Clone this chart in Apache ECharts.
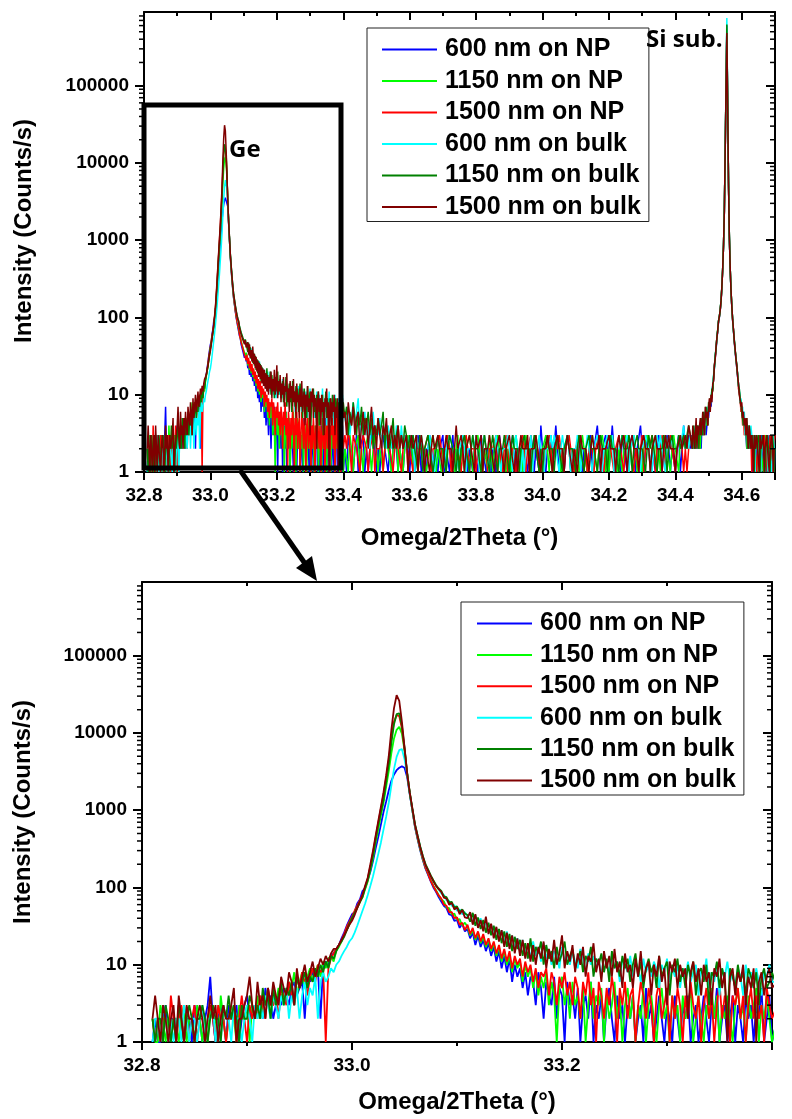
<!DOCTYPE html>
<html>
<head>
<meta charset="utf-8">
<script src="https://cdn.jsdelivr.net/npm/echarts@6/dist/echarts.min.js"></script>
<style>
  html, body { margin: 0; padding: 0; background: #fff; }
  #chart { width: 792px; height: 1119px; }
</style>
</head>
<body>
<div id="chart"></div>
<script>
// Omega/2Theta scans of Ge layers grown on nano-patterned (NP) and bulk Si.
// Each scan is stored in three segments: fine steps around the Ge peak,
// coarser steps in the flat background, fine steps around the Si substrate peak.
const segStartA = 32.81, segStepA = 0.0025;   // 237 points, to 33.400
const segStartB = 33.405, segStepB = 0.005;   // 209 points, to 34.445
const segStartC = 34.45, segStepC = 0.0025;   // 101 points, to 34.700

const seriesNames = ['600 nm on NP', '1150 nm on NP', '1500 nm on NP',
                     '600 nm on bulk', '1150 nm on bulk', '1500 nm on bulk'];

// ---- 600 nm on NP (counts/s) ----
const np600A = [
  1,2,1,1,2,3,1,2,2,1, 3,2,1,2,2,1,3,2,2,1, 2,3,7,2,1,2,3,2,1,3, 2,2,3,1,2,3,4,2,3,2,
  3,3,2,5,3,4,2,3,4,3, 5,4,3,5,6,4,5,6,2,7, 6,8,7,9,2,10,11,10,13,14, 16,18,22,26,32,38,45,48,62,70,
  90,98,125,160,220,320,450,650,950,1300, 1800,2400,2900,3300,3550,3700,3550,2700,1600,1000,
  600,420,300,225,175,145,120,100,88,75, 66,58,54,45,44,37,38,30,34,27,
  29,22,26,18,24,17,21,15,19,13, 17,11,15,9,13,8,12,6,10,7, 9,5,8,4,7,6,3,8,5,2,
  6,4,3,7,2,5,4,1,6,3, 4,2,5,1,3,4,2,6,1,3, 2,4,1,3,5,2,1,4,2,3, 1,3,2,4,1,2,3,1,5,2,
  3,1,2,4,2,1,3,2,1,4, 2,1,3,2,4,1,2,3,1,2, 4,2,1,3,2,5,1,2,3,1, 2,4,1,3,2,1,4,2,3,1,
  3,2,5,1,2,4,1
];
const np600B = [
  2,1,3,2,2,1,2,3,1,2, 2,3,1,2,1,2,2,4,2,1, 2,1,2,3,2,2,1,2,1,2, 3,2,1,2,2,1,2,3,2,1,
  2,2,1,2,3,2,1,2,2,1, 2,3,2,1,2,2,1,2,2,3, 1,2,2,1,2,3,1,2,2,1, 2,2,3,2,1,2,2,1,2,2,
  1,2,3,2,2,1,2,2,1,2, 2,1,2,3,2,2,1,2,2,1, 2,3,2,1,2,2,2,1,2,2, 1,2,3,2,1,2,2,1,4,2,
  2,1,2,2,3,1,2,4,2,1, 2,2,1,2,3,2,1,2,2,1, 2,3,2,1,2,2,1,2,3,1, 2,2,4,2,1,2,2,3,2,1,
  2,4,2,1,2,2,1,3,2,2, 1,2,2,3,2,1,2,2,4,2, 1,2,3,2,1,2,2,1,2,3, 2,1,2,2,3,2,1,2,2,1,
  2,3,1,2,4,2,2,3,2
];
const np600C = [
  3,2,2,3,2,3,2,2,3,2, 3,2,4,3,3,4,5,3,4,6, 5,7,8,7,10,12,16,22,30,38,
  52,66,88,100,122,160,240,420,850,2300, 13000,85000,600000,52000,5500,1100,430,220,135,90,
  66,48,36,28,22,17,14,11,9,7, 6,5,6,4,5,3,2,4,2,3, 2,3,2,1,2,2,3,2,1,2,
  2,1,2,2,3,2,1,2,2,2, 1,2,2,3,2,1,2,2,2,1, 2
];

// ---- 1150 nm on NP ----
const np1150A = [
  2,1,1,3,2,1,2,1,2,2, 1,2,3,1,2,2,1,3,2,1, 2,1,3,2,2,1,4,2,1,2, 3,2,1,3,2,2,3,1,3,2,
  4,2,3,3,5,2,4,3,5,4, 3,4,6,5,8,4,6,8,5,7, 9,6,8,10,7,11,9,12,13,11, 15,17,20,24,28,33,40,46,55,64,
  75,95,120,170,240,380,560,850,1250,2000, 3200,5500,8500,11000,12000,9800,6000,3000,1650,1000,
  620,430,310,230,180,150,125,105,92,80, 70,66,55,54,45,46,38,39,32,35,
  31,24,28,21,26,19,23,17,21,15, 19,13,17,11,15,10,13,8,12,9, 11,6,10,7,9,5,8,4,7,5,
  8,3,6,4,1,5,7,3,5,2, 6,3,4,2,5,1,3,6,2,4, 3,5,1,4,2,3,6,2,4,1, 3,5,2,4,1,3,2,5,1,3,
  4,2,1,3,5,2,3,1,4,2, 3,1,4,2,3,5,1,2,4,2, 1,3,2,5,2,4,1,3,2,4, 2,1,3,5,2,3,1,4,2,3,
  5,1,3,2,4,2,1
];
const np1150B = [
  2,2,1,3,2,1,2,2,3,1, 2,1,2,2,3,2,1,2,3,2, 1,2,2,1,2,3,2,2,1,2, 2,3,1,2,2,1,2,2,3,2,
  3,1,2,2,1,2,3,2,2,1, 1,2,2,3,2,1,2,2,1,2, 2,1,3,2,2,2,1,2,3,1, 2,2,1,2,2,3,2,1,2,2,
  3,2,2,1,2,2,1,3,2,1, 2,2,3,2,1,2,2,1,2,2, 1,2,2,3,2,1,2,1,2,3, 2,2,1,2,2,3,2,2,1,2,
  2,3,2,1,2,1,2,2,3,2, 1,2,2,2,3,2,1,2,2,1, 2,1,2,3,2,2,1,2,2,3, 2,2,1,2,2,3,2,1,2,1,
  2,3,2,2,1,2,2,1,2,3, 2,1,2,2,3,2,1,2,2,1, 2,2,3,2,1,2,2,3,1,2, 1,2,2,3,2,2,1,2,3,2,
  2,1,3,2,2,3,2,2,3
];
const np1150C = [
  2,2,3,2,2,3,2,4,2,3, 2,4,3,3,5,3,4,5,4,6, 6,6,9,8,11,12,17,22,31,41,
  54,70,90,102,124,165,245,430,860,2400, 14000,90000,560000,55000,5700,1150,440,225,138,92,
  67,50,38,29,23,18,14,11,8,8, 7,5,4,5,3,4,2,3,4,2, 3,2,2,3,2,1,2,2,3,2,
  1,2,3,2,2,2,1,2,2,3, 2,2,1,2,2,3,2,1,2,2, 2
];

// ---- 1500 nm on NP ----
const np1500A = [
  2,1,2,1,2,2,1,4,2,1, 2,3,1,2,1,2,3,1,2,2, 1,2,3,2,1,3,2,2,1,2, 2,3,1,2,4,2,1,3,2,3,
  2,4,3,2,5,3,3,4,2,5, 4,3,6,4,3,7,5,8,6,4, 7,9,6,10,8,9,1,9,12,14, 16,18,21,25,31,36,42,50,58,68,
  80,100,130,190,280,440,680,1050,1600,2600, 4400,8500,14000,17000,16500,11500,6200,3000,1650,1000,
  620,440,315,235,180,150,122,104,90,79, 72,60,58,48,48,40,41,33,35,28,
  33,25,30,22,27,20,25,18,22,16, 20,14,18,12,16,11,15,9,13,10, 12,7,11,8,10,6,9,5,8,7,
  9,4,8,6,3,7,5,8,4,6, 3,7,5,2,6,4,8,3,5,1, 6,4,2,5,3,7,4,1,5,3, 6,2,4,5,1,3,6,4,2,5,
  3,1,4,6,2,3,5,1,4,2, 5,3,1,4,2,6,3,2,4,1, 3,5,2,4,1,3,6,2,4,3, 1,4,3,5,2,4,1,3,5,2,
  4,2,3,1,5,3,2
];
const np1500B = [
  3,2,4,2,1,3,3,2,2,1, 2,3,3,2,1,2,2,3,1,2, 2,2,3,1,2,2,3,2,2,1, 2,3,2,2,1,2,2,3,1,2,
  2,1,2,3,2,2,2,1,2,2, 3,2,1,2,2,2,2,3,2,1, 2,2,3,2,1,2,2,1,2,2, 1,2,2,3,2,1,2,2,2,1,
  2,1,2,2,3,2,1,2,2,2, 2,3,1,2,2,1,2,3,1,2, 2,2,2,1,1,2,2,3,2,1, 2,2,3,1,2,2,2,1,2,2,
  1,2,2,3,2,1,2,2,2,3, 2,2,1,2,2,3,2,2,1,2, 2,3,2,2,1,2,1,2,2,2, 1,2,2,3,2,2,1,2,2,3,
  2,2,1,2,2,3,2,2,1,2, 2,3,2,2,1,2,2,1,2,3, 1,2,2,2,2,3,2,1,2,2, 2,3,2,1,2,2,3,2,2,1,
  2,2,3,2,1,2,1,2,3
];
const np1500C = [
  2,3,2,2,4,2,3,3,2,3, 4,3,3,5,3,4,4,6,5,4, 7,6,8,10,9,13,16,24,30,40,
  55,67,90,103,125,162,248,425,860,2400, 14000,88000,520000,54000,5600,1150,445,228,138,93,
  69,49,37,30,22,19,12,12,9,6, 7,4,6,3,5,3,4,2,3,2, 2,3,1,2,2,3,2,2,1,2,
  2,2,3,1,2,2,2,3,2,1, 2,2,2,1,3,2,2,1,2,2, 3
];

// ---- 600 nm on bulk ----
const bulk600A = [
  1,2,2,1,3,2,1,2,1,2, 2,1,3,2,1,2,2,1,2,3, 1,2,2,3,1,2,1,3,2,2, 1,3,2,2,1,2,3,2,1,3,
  2,3,2,4,3,2,4,3,2,4, 3,5,2,4,3,5,2,4,6,3, 5,4,7,2,6,8,6,7,9,8, 10,11,13,15,17,20,22,26,32,40,
  50,62,80,105,140,195,270,380,560,820, 1250,2100,3400,4900,6000,6200,4600,3000,1650,1000,
  640,460,335,250,195,165,140,120,106,95, 84,80,68,67,58,59,50,52,45,48,
  42,47,35,44,31,40,28,37,26,33, 24,30,21,28,19,27,18,24,16,22, 15,21,14,18,12,20,13,17,11,19,
  12,16,10,15,13,9,17,11,14,10, 15,11,9,16,12,8,14,10,13,9, 12,7,14,10,8,13,9,11,6,12,
  10,8,13,7,11,9,6,12,8,10, 7,11,9,5,10,8,12,6,9,7, 10,5,9,7,11,6,8,10,4,9,
  7,12,5,8,6,10,4,9,7,11, 6,8,5,9,7,4,10,6,8,5, 9,6,4,8,7,10,6
];
const bulk600B = [
  6,4,7,3,5,8,4,6,9,3, 5,4,6,3,5,2,4,6,3,4, 3,5,2,4,3,2,4,3,2,3, 2,4,3,2,4,2,3,2,2,3,
  2,3,1,3,2,2,3,1,2,2, 2,3,2,2,1,2,3,2,2,1, 1,2,2,3,3,2,2,1,1,2, 2,3,2,1,2,2,2,3,2,3,
  2,1,2,2,3,2,2,1,2,2, 2,3,2,2,1,2,2,2,3,2, 2,1,2,3,2,2,1,2,1,2, 2,2,3,1,2,2,2,3,2,2,
  1,2,2,2,3,2,3,2,2,1, 2,3,2,2,3,2,1,2,2,2, 3,2,1,2,2,2,3,2,2,1, 2,2,3,2,2,1,2,2,3,2,
  2,3,1,2,2,2,2,3,2,2, 3,1,2,2,3,2,2,2,1,2, 2,3,3,2,2,1,2,2,3,2, 3,2,2,1,2,3,2,3,2,2,
  2,3,2,2,4,2,3,2,3
];
const bulk600C = [
  2,3,2,3,4,2,3,2,4,3, 3,4,5,3,4,6,4,5,7,5, 6,8,7,9,12,13,18,23,33,40,
  56,68,92,104,126,168,250,430,870,2500, 15000,100000,750000,60000,6000,1200,450,230,140,95,
  68,52,37,31,23,19,13,12,8,9, 6,7,4,6,3,5,4,2,4,3, 2,4,3,2,3,2,1,3,2,2,
  3,2,2,1,2,3,2,2,1,2, 2,3,1,2,2,2,1,2,3,2, 2
];

// ---- 1150 nm on bulk ----
const bulk1150A = [
  2,1,2,2,1,3,2,1,2,1, 3,2,1,2,3,2,1,2,2,3, 2,1,2,3,2,2,1,3,2,4, 2,3,2,1,3,2,2,4,3,2,
  3,2,5,3,4,2,5,3,4,6, 3,5,4,6,3,7,5,6,8,5, 7,6,9,7,10,8,11,9,13,12, 15,18,20,23,28,34,40,47,55,65,
  75,100,125,180,260,420,650,950,1350,2300, 4000,7500,13000,17500,18000,12500,6500,3100,1700,1050,
  660,470,340,255,200,170,143,124,108,97, 90,77,75,64,65,55,57,48,52,46,
  44,36,47,32,41,29,38,26,35,24, 32,21,29,19,27,17,25,15,23,16, 21,13,19,12,22,11,17,14,20,10,
  18,12,15,9,17,11,14,20,10,13, 16,9,12,15,8,13,11,17,7,12, 10,14,8,12,6,15,9,11,7,13,
  9,12,6,10,14,7,11,5,9,12, 8,10,5,13,7,9,11,4,10,8, 12,6,9,5,10,7,11,4,8,9,
  6,10,3,8,7,11,5,9,6,2, 9,7,5,10,6,8,4,9,7,5, 8,3,7,9,5,6,8
];
const bulk1150B = [
  5,7,3,6,4,8,5,3,6,4, 7,3,5,4,6,3,5,2,4,3, 5,3,4,6,2,4,3,2,3,5, 2,3,4,2,3,2,4,3,2,3,
  2,3,2,2,1,3,2,1,2,2, 3,2,2,1,1,2,3,2,2,2, 2,1,2,3,3,2,2,1,2,1, 2,2,3,2,2,1,2,3,2,2,
  2,2,1,2,3,2,2,1,2,3, 2,2,1,2,2,2,3,2,2,1, 2,3,2,2,2,1,2,2,3,2, 2,2,1,2,3,2,2,1,2,1,
  2,2,3,2,2,2,1,2,3,2, 2,1,2,2,3,2,2,2,2,1, 2,3,2,2,1,2,2,3,2,2, 2,2,1,2,3,2,2,2,1,2,
  3,2,2,2,2,1,2,3,2,2, 2,3,2,1,2,2,3,2,2,2, 2,1,2,3,2,3,2,2,1,2, 2,2,3,2,1,2,2,3,2,2,
  2,3,2,2,3,2,3,4,3
];
const bulk1150C = [
  3,2,4,3,2,3,4,3,2,4, 3,5,4,3,6,4,5,7,5,4, 8,6,9,8,12,11,17,23,32,39,
  55,69,91,104,126,166,250,430,870,2450, 14500,95000,620000,57000,5800,1180,448,228,140,94,
  68,51,38,30,24,18,13,12,9,8, 6,6,4,5,4,3,5,2,3,4, 2,3,2,3,2,1,3,2,2,2,
  3,2,1,2,2,3,2,2,1,2, 2,3,2,2,1,2,2,3,2,1, 2
];

// ---- 1500 nm on bulk ----
const bulk1500A = [
  2,4,2,1,3,2,1,2,3,1, 4,2,1,3,2,2,1,2,3,2, 1,2,4,2,3,1,2,3,2,2, 3,5,1,2,2,3,4,7,3,2,
  6,3,4,2,5,3,6,4,3,7, 5,4,8,6,3,9,5,7,10,6, 8,11,7,9,12,10,13,11,14,16, 16,18,21,24,28,33,37,44,54,65,
  80,105,135,200,300,470,720,1100,1700,2800, 5000,11000,21000,30800,26000,14000,6500,3000,1700,1050,
  650,460,330,250,195,165,140,120,105,95, 88,74,72,60,63,52,55,45,51,41,
  40,48,33,45,30,38,27,42,25,34, 22,31,20,28,17,26,16,24,14,22, 13,21,12,19,11,18,10,17,12,20,
  9,16,11,21,10,14,24,9,15,11, 18,8,14,10,17,7,13,11,19,8, 12,6,15,9,13,7,16,8,11,5,
  14,8,10,5,12,7,15,6,9,11, 4,10,7,13,6,9,3,11,8,12, 5,10,7,9,2,8,11,6,9,4,
  10,6,8,3,9,7,12,5,8,1, 7,9,4,8,6,10,3,7,5,9, 1,6,8,4,7,9,5
];
const bulk1500B = [
  6,3,8,5,4,7,3,5,6,2, 4,6,3,5,2,4,7,3,4,2, 5,3,2,4,3,5,2,3,4,2, 3,2,4,2,3,2,2,3,1,2,
  3,2,2,3,1,2,3,2,1,2, 2,1,2,3,2,2,3,2,2,1, 2,3,2,2,2,1,2,4,2,2, 3,2,1,2,2,3,2,2,1,3,
  2,2,3,1,2,2,2,3,2,2, 1,2,2,3,2,2,1,2,2,3, 2,2,1,2,1,2,3,2,2,2, 3,1,2,2,2,3,2,2,1,2,
  2,2,3,2,2,1,2,2,3,2, 2,2,1,2,3,2,2,1,2,2, 1,2,3,2,2,2,2,1,2,3, 2,2,2,3,1,2,2,2,2,3,
  2,2,2,1,2,3,2,2,3,2, 1,2,2,3,2,2,2,1,2,2, 3,2,2,2,1,2,2,3,2,2, 2,1,2,3,2,3,2,2,2,1,
  2,2,3,2,2,3,2,4,3
];
const bulk1500C = [
  2,4,3,2,3,5,2,4,3,3, 5,3,4,6,4,3,7,5,6,4, 7,9,6,10,8,14,15,24,29,42,
  54,68,90,103,125,164,248,428,865,2400, 14000,88000,480000,53000,5600,1150,445,226,139,93,
  70,50,39,29,24,17,14,10,10,7, 8,5,6,4,5,3,5,3,2,4, 3,2,3,2,1,3,2,2,3,2,
  2,1,3,2,2,2,3,1,2,2, 3,2,2,1,2,2,3,2,1,2, 2
];

// Minor tick values of the logarithmic intensity axes
const yMinorTicks = [
  2,3,4,5,6,7,8,9, 20,30,40,50,60,70,80,90, 200,300,400,500,600,700,800,900,
  2000,3000,4000,5000,6000,7000,8000,9000, 20000,30000,40000,50000,60000,70000,80000,90000,
  200000,300000,400000,500000,600000,700000,800000
];

const seriesColors = ['#0000ff', '#00ff00', '#ff0000', '#00ffff', '#008000', '#800000'];

function segment(start, step, values) {
  return values.map((v, i) => [+(start + i * step).toFixed(4), v]);
}
function scan(a, b, c) {
  return segment(segStartA, segStepA, a)
    .concat(segment(segStartB, segStepB, b))
    .concat(segment(segStartC, segStepC, c));
}
const scans = [
  scan(np600A, np600B, np600C),
  scan(np1150A, np1150B, np1150C),
  scan(np1500A, np1500B, np1500C),
  scan(bulk600A, bulk600B, bulk600C),
  scan(bulk1150A, bulk1150B, bulk1150C),
  scan(bulk1500A, bulk1500B, bulk1500C)
];

const FONT = 'Liberation Sans';
const labelFont = { fontFamily: FONT, fontWeight: 'bold', fontSize: 19, color: '#000' };
const nameFont = { fontFamily: FONT, fontWeight: 'bold', fontSize: 24, color: '#000' };
const axisLine = { show: true, onZero: false, lineStyle: { color: '#000', width: 2 } };

function xAxes(gridIndex, min, max, nameGap) {
  return [
    {
      type: 'value', gridIndex, position: 'bottom', min, max, interval: 0.2,
      axisLine, splitLine: { show: false },
      axisTick: { show: true, inside: false, length: 8, lineStyle: { width: 2, color: '#000' } },
      minorTick: { show: true, splitNumber: 2, length: 4, lineStyle: { width: 2, color: '#000' } },
      axisLabel: Object.assign({ margin: 14, showMaxLabel: false, formatter: v => v.toFixed(1) }, labelFont),
      name: 'Omega/2Theta (°)', nameLocation: 'middle', nameGap, nameTextStyle: nameFont
    },
    {
      type: 'value', gridIndex, position: 'top', min, max, interval: 0.2,
      axisLine, splitLine: { show: false },
      axisTick: { show: true, inside: true, length: 8, lineStyle: { width: 2, color: '#000' } },
      minorTick: { show: true, splitNumber: 2, length: 4, lineStyle: { width: 2, color: '#000' } },
      axisLabel: { show: false }
    }
  ];
}
function yAxes(gridIndex, nameGap, namePadding) {
  return [
    {
      type: 'log', logBase: 10, gridIndex, position: 'left', min: 1, max: 900000,
      axisLine, splitLine: { show: false },
      axisTick: { show: true, inside: false, length: 9, lineStyle: { width: 2, color: '#000' } },
      axisLabel: Object.assign({ margin: 15, showMaxLabel: false,
                                 formatter: v => String(Math.round(v)) }, labelFont),
      name: 'Intensity (Counts/s)', nameLocation: 'middle', nameGap,
      nameTextStyle: Object.assign({ padding: namePadding }, nameFont)
    },
    {
      type: 'log', logBase: 10, gridIndex, position: 'right', min: 1, max: 900000,
      axisLine, splitLine: { show: false },
      axisTick: { show: true, inside: true, length: 9, lineStyle: { width: 2, color: '#000' } },
      axisLabel: { show: false }
    }
  ];
}

// Minor ticks (2..9 per decade) on both vertical frame sides
function minorTicks(gridIndex, xMin) {
  return {
    type: 'custom', xAxisIndex: gridIndex * 2, yAxisIndex: gridIndex * 2,
    silent: true, animation: false, z: 5, clip: false,
    data: yMinorTicks.map(v => [xMin, v]),
    renderItem: (params, api) => {
      const cs = params.coordSys;
      const y = api.coord([api.value(0), api.value(1)])[1];
      const st = { stroke: '#000', lineWidth: 1.5 };
      return {
        type: 'group',
        children: [
          { type: 'line', shape: { x1: cs.x - 5, y1: y, x2: cs.x, y2: y }, style: st },
          { type: 'line', shape: { x1: cs.x + cs.width - 5, y1: y, x2: cs.x + cs.width, y2: y }, style: st }
        ]
      };
    }
  };
}

function lineSeries(gridIndex, width) {
  return seriesNames.map((name, k) => ({
    type: 'line', name,
    xAxisIndex: gridIndex * 2, yAxisIndex: gridIndex * 2,
    data: scans[k], symbol: 'none', showSymbol: false, clip: true,
    silent: true, animation: false, z: 2,
    lineStyle: { color: seriesColors[k], width },
    itemStyle: { color: seriesColors[k] }
  }));
}

function legend(left, top, itemGap, padding) {
  return {
    data: seriesNames, orient: 'vertical', left, top, itemGap, padding,
    icon: 'rect', itemWidth: 55, itemHeight: 2, selectedMode: false,
    backgroundColor: '#fff', borderColor: '#222', borderWidth: 1, borderRadius: 0,
    textStyle: { fontFamily: FONT, fontWeight: 'bold', fontSize: 25, lineHeight: 24,
                 color: '#000', padding: [0, 0, 0, 3] }
  };
}

const chart = echarts.init(document.getElementById('chart'), null, { renderer: 'canvas' });
chart.setOption({
  animation: false,
  backgroundColor: '#fff',
  grid: [
    { left: 144, top: 12, width: 631, height: 460, containLabel: false },
    { left: 142, top: 582, width: 630, height: 460, containLabel: false }
  ],
  xAxis: [].concat(xAxes(0, 32.8, 34.7, 54), xAxes(1, 32.8, 33.4, 48)),
  yAxis: [].concat(yAxes(0, 108, [0, 0, 0, 22]), yAxes(1, 107, 0)),
  legend: [legend(367, 28, 6.5, [9, 8, 2, 15]), legend(461, 602, 6.4, [9, 8, 2, 16])],
  series: [].concat(lineSeries(0, 1.5), lineSeries(1, 1.8), [minorTicks(0, 32.8), minorTicks(1, 32.8)]),
  graphic: [
    // zoom window around the Ge reflection
    { type: 'rect', z: 100, shape: { x: 144, y: 105, width: 197, height: 363 },
      style: { fill: 'none', stroke: '#000', lineWidth: 5 } },
    { type: 'line', z: 100, shape: { x1: 240, y1: 470, x2: 306, y2: 565 },
      style: { stroke: '#000', lineWidth: 5 } },
    { type: 'polygon', z: 100, shape: { points: [[317, 581], [296, 568], [312, 556]] },
      style: { fill: '#000' } },
    { type: 'text', z: 100, x: 229, y: 150,
      style: { text: 'Ge', fill: '#000', font: 'bold 24px "Open Sans"', verticalAlign: 'middle' } },
    { type: 'text', z: 100, x: 646, y: 40,
      style: { text: 'Si sub.', fill: '#000', font: 'bold 24px "Open Sans"', verticalAlign: 'middle' } }
  ]
});
</script>
</body>
</html>
